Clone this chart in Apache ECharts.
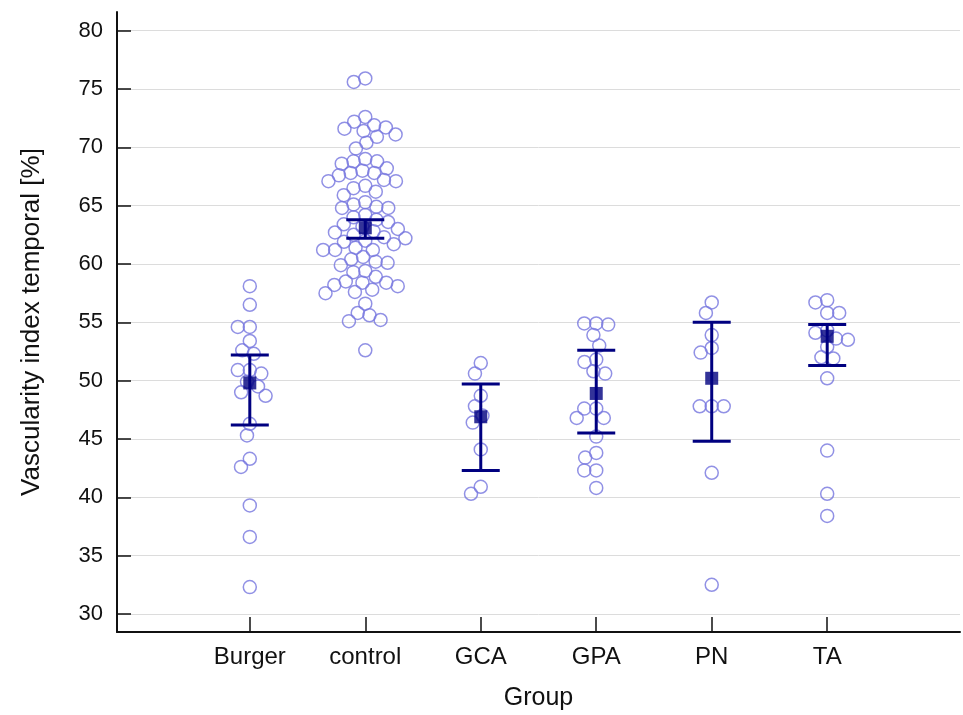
<!DOCTYPE html>
<html>
<head>
<meta charset="utf-8">
<script src="https://cdn.jsdelivr.net/npm/echarts@6/dist/echarts.min.js"></script>
<style>
  html, body { margin: 0; padding: 0; background: #fff; }
  #chart { width: 963px; height: 715px; }
</style>
</head>
<body>
<div id="chart"></div>
<script>
const groups = ['Burger', 'control', 'GCA', 'GPA', 'PN', 'TA']
const yTicks = [30, 35, 40, 45, 50, 55, 60, 65, 70, 75, 80]

// individual observations per group
const burger = [58.1, 56.5, 54.6, 54.6, 53.4, 52.3, 52.6, 50.9, 50.6, 50.9, 49.5, 49.9, 48.7, 49.0, 46.3, 45.3, 43.3, 42.6, 39.3, 36.6, 32.3]
const control = [75.9, 75.6, 72.6, 72.2, 71.9, 71.7, 71.6, 71.4, 71.1, 70.9, 70.4, 69.9, 69.0, 68.8, 68.8, 68.6, 68.2, 68.0, 67.8, 67.8,
  67.6, 67.2, 67.1, 67.1, 66.7, 66.5, 66.2, 65.9, 65.3, 65.1, 64.9, 64.8, 64.8, 64.2, 64.0, 63.8, 63.6, 63.4, 63.2, 63.0,
  62.8, 62.7, 62.5, 62.3, 62.2, 62.0, 61.9, 61.7, 61.4, 61.2, 61.2, 61.2, 60.6, 60.4, 60.2, 60.1, 59.9, 59.4, 59.3, 58.9,
  58.5, 58.4, 58.4, 58.2, 58.1, 57.8, 57.6, 57.5, 56.6, 55.8, 55.6, 55.2, 55.1, 52.6]
const gca = [51.5, 50.6, 48.7, 47.8, 47.0, 46.4, 44.1, 40.9, 40.3]
const gpa = [54.8, 54.9, 54.9, 53.9, 53.0, 51.6, 51.8, 50.6, 50.8, 47.6, 47.6, 46.8, 46.8, 45.2, 43.8, 43.4, 42.3, 42.3, 40.8]
const pn = [56.7, 55.8, 53.9, 52.4, 52.8, 47.8, 47.8, 47.8, 42.1, 32.5]
const ta = [56.9, 56.7, 55.8, 55.8, 54.3, 54.1, 53.6, 53.5, 52.9, 52.0, 51.9, 50.2, 44.0, 40.3, 38.4]
const values = [burger, control, gca, gpa, pn, ta]

// mean with 95% CI
const means = [49.8, 63.1, 46.9, 48.9, 50.2, 53.8]
const ciLow = [46.2, 62.2, 42.3, 45.5, 44.8, 51.3]
const ciHigh = [52.2, 63.8, 49.7, 52.6, 55.0, 54.8]

const dotColor = '#7575de'
const meanColor = '#000080'
const font = 'Liberation Sans, Arial, sans-serif'

const chart = echarts.init(document.getElementById('chart'))

chart.setOption({
  animation: false,
  backgroundColor: '#fff',
  grid: { left: 117, right: 3, top: 12, bottom: 83, outerBoundsMode: 'none' },
  xAxis: {
    type: 'value',
    min: -0.15,
    max: 7.15,
    name: 'Group',
    nameLocation: 'middle',
    nameGap: 54,
    nameTextStyle: { fontSize: 25, color: '#111', fontFamily: font },
    axisLine: { onZero: false, lineStyle: { color: '#111', width: 2 } },
    axisTick: { inside: true, length: 15, customValues: [1, 2, 3, 4, 5, 6], lineStyle: { color: '#111', width: 1.5 } },
    axisLabel: {
      customValues: [1, 2, 3, 4, 5, 6],
      margin: 13,
      fontSize: 24,
      color: '#111',
      fontFamily: font,
      formatter: v => groups[Math.round(v) - 1] || ''
    },
    splitLine: { show: false }
  },
  yAxis: {
    type: 'value',
    min: 28.45,
    max: 81.6,
    name: 'Vascularity index temporal [%]',
    nameLocation: 'middle',
    nameGap: 72,
    nameTextStyle: { fontSize: 26, color: '#111', fontFamily: font },
    axisLine: { show: true, onZero: false, lineStyle: { color: '#111', width: 2 } },
    axisTick: { show: true, inside: true, length: 14, customValues: yTicks, lineStyle: { color: '#111', width: 1.5 } },
    axisLabel: { customValues: yTicks, margin: 14, fontSize: 22, color: '#111', fontFamily: font },
    splitLine: { show: true, lineStyle: { color: '#dcdcdc', width: 1 } }
  },
  series: []
})

// beeswarm: push points sideways (in pixels) until circles stop overlapping
function swarm (vals, diameter) {
  const py = vals.map(v => chart.convertToPixel({ yAxisIndex: 0 }, v))
  const order = vals.map((v, i) => i).sort((a, b) => vals[b] - vals[a])
  const placed = []
  const offsets = new Array(vals.length)
  order.forEach(i => {
    const y = py[i]
    const blocks = []
    placed.forEach(p => {
      const dy = Math.abs(p.y - y)
      if (dy < diameter) {
        const dx = Math.sqrt(diameter * diameter - dy * dy)
        blocks.push([p.x - dx, p.x + dx])
      }
    })
    const cands = [0]
    blocks.forEach(b => { cands.push(b[0], b[1]) })
    cands.sort((a, b) => Math.abs(a) - Math.abs(b) || a - b)
    const x = cands.find(c => blocks.every(b => c <= b[0] + 1e-6 || c >= b[1] - 1e-6))
    placed.push({ x, y })
    offsets[i] = x
  })
  return offsets
}

const x0 = chart.convertToPixel({ xAxisIndex: 0 }, 0)
const x1 = chart.convertToPixel({ xAxisIndex: 0 }, 1)
const unitPerPx = 1 / (x1 - x0)

const dots = []
values.forEach((vals, g) => {
  const off = swarm(vals, 12)
  vals.forEach((v, i) => dots.push([g + 1 + off[i] * unitPerPx, v]))
})

chart.setOption({
  series: [
    {
      type: 'scatter',
      data: dots,
      symbol: 'circle',
      symbolSize: 13,
      itemStyle: { color: 'rgba(0,0,0,0)', borderColor: dotColor, borderWidth: 1.5 },
      z: 2
    },
    {
      type: 'custom',
      data: groups.map((g, i) => [i + 1, ciLow[i], ciHigh[i]]),
      z: 3,
      renderItem (params, api) {
        const x = api.value(0)
        const lo = api.coord([x, api.value(1)])
        const hi = api.coord([x, api.value(2)])
        const w = 19
        const style = { stroke: meanColor, lineWidth: 3 }
        return {
          type: 'group',
          children: [
            { type: 'line', shape: { x1: lo[0], y1: lo[1], x2: hi[0], y2: hi[1] }, style },
            { type: 'line', shape: { x1: lo[0] - w, y1: lo[1], x2: lo[0] + w, y2: lo[1] }, style },
            { type: 'line', shape: { x1: hi[0] - w, y1: hi[1], x2: hi[0] + w, y2: hi[1] }, style }
          ]
        }
      }
    },
    {
      type: 'scatter',
      data: means.map((m, i) => [i + 1, m]),
      symbol: 'rect',
      symbolSize: 13,
      itemStyle: { color: meanColor },
      z: 4
    }
  ]
})
</script>
</body>
</html>
